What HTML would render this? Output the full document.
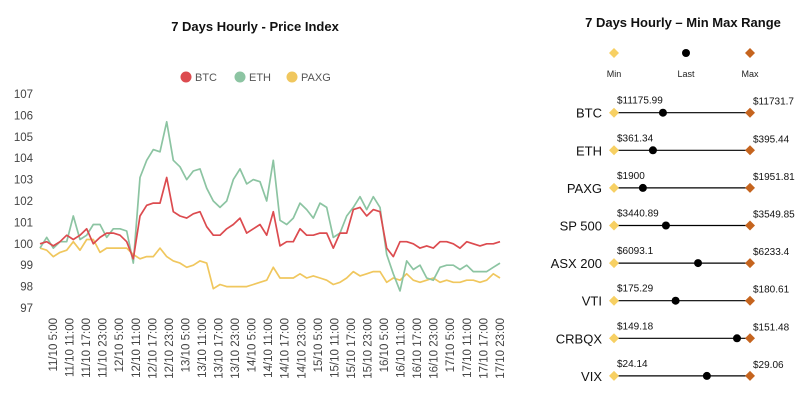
<!DOCTYPE html>
<html><head><meta charset="utf-8"><style>
body{margin:0;background:#fff;width:806px;height:405px;overflow:hidden;font-family:"Liberation Sans",sans-serif}
svg{position:absolute;left:0;top:0}
</style></head><body>
<svg id="c" width="806" height="405">
<text x="255" y="31" text-anchor="middle" font-weight="bold" font-size="13" fill="#111">7 Days Hourly - Price Index</text>
<text x="683" y="27" text-anchor="middle" font-weight="bold" font-size="13" fill="#111">7 Days Hourly – Min Max Range</text>
<g id="legend"></g>
<g id="yaxis"></g>
<g id="xaxis"></g>
<g id="lines"></g>
<g id="range"></g>
</svg>
<script>
const seriesNames=["BTC","ETH","PAXG"];
const seriesColors=["#dc4b4f","#8cc4a2","#f0c75e"];
const btc=[100.0,100.1,99.9,100.1,100.4,100.2,100.4,100.7,100.0,100.3,100.5,100.5,100.4,100.1,99.3,101.3,101.8,101.9,101.9,103.1,101.5,101.3,101.2,101.4,101.5,100.8,100.4,100.4,100.7,100.9,101.2,100.5,100.7,100.9,100.4,101.5,99.9,100.1,100.1,100.7,100.4,100.4,100.5,100.5,99.8,100.5,100.5,101.6,101.7,101.3,101.6,101.5,99.8,99.4,100.1,100.1,100.0,99.8,99.9,99.8,100.1,100.1,100.0,99.8,100.1,100.0,99.9,100.0,100.0,100.1];
const eth=[99.8,100.3,99.8,100.1,100.1,101.3,100.2,100.4,100.9,100.9,100.3,100.7,100.7,100.6,99.1,103.1,103.9,104.4,104.3,105.7,103.9,103.6,103.0,103.4,103.5,102.6,102.0,101.7,102.0,103.0,103.5,102.8,103.0,102.9,102.0,103.9,101.1,100.9,101.2,101.9,101.6,101.2,101.9,101.7,100.3,100.5,101.3,101.7,102.2,101.6,102.2,101.7,99.5,98.6,97.8,99.2,98.8,99.0,98.4,98.3,98.9,99.0,99.0,98.8,99.0,98.7,98.7,98.7,98.9,99.1];
const paxg=[99.8,99.7,99.4,99.6,99.7,100.1,99.7,100.2,100.2,99.6,99.8,99.8,99.8,99.8,99.5,99.3,99.4,99.4,99.8,99.4,99.2,99.1,98.9,99.0,99.2,99.1,97.9,98.1,98.0,98.0,98.0,98.0,98.1,98.2,98.3,98.9,98.4,98.4,98.4,98.6,98.4,98.5,98.4,98.3,98.1,98.2,98.4,98.7,98.5,98.6,98.7,98.7,98.2,98.4,98.3,98.6,98.3,98.2,98.3,98.4,98.2,98.3,98.2,98.2,98.3,98.3,98.2,98.3,98.6,98.4];
const yTicks=[97,98,99,100,101,102,103,104,105,106,107];
const days=["11/10","12/10","13/10","14/10","15/10","16/10","17/10"];
const hours=["5:00","11:00","17:00","23:00"];
const rangeNames=["BTC","ETH","PAXG","SP 500","ASX 200","VTI","CRBQX","VIX"];
const rangeMin=[11175.99,361.34,1900,3440.89,6093.1,175.29,149.18,24.14];
const rangeMax=[11731.7,395.44,1951.81,3549.85,6233.4,180.61,151.48,29.06];
const rangeLast=[11376,371.1,1911,3482.5,6179.8,177.7,151.26,27.5];
const minLabels=["$11175.99","$361.34","$1900","$3440.89","$6093.1","$175.29","$149.18","$24.14"];
const maxLabels=["$11731.7","$395.44","$1951.81","$3549.85","$6233.4","$180.61","$151.48","$29.06"];

const NS="http://www.w3.org/2000/svg";
function mk(p,t,a){const e=document.createElementNS(NS,t);for(const k in a)e.setAttribute(k,a[k]);p.appendChild(e);return e;}
const y=v=>308-(v-97)*21.4;
const xd=(i,n)=>40+i*(460/(n-1));

const yg=document.getElementById('yaxis');
yTicks.forEach(t=>{const e=mk(yg,'text',{x:33,y:y(t)+4,'text-anchor':'end','font-size':11.5,fill:'#444'});e.textContent=t;

});

const xg=document.getElementById('xaxis');
const xl=[];days.forEach(d=>hours.forEach(h=>xl.push(d+" "+h)));
xl.forEach((l,i)=>{const xx=53+i*16.55;const e=mk(xg,'text',{x:0,y:0,transform:`translate(${xx+4},318) rotate(-90)`,'text-anchor':'end','font-size':11.5,fill:'#444'});e.textContent=l;

});

const lg=document.getElementById('legend');
[[186,201],[240,256],[292,308]].forEach((p,i)=>{
const c=mk(lg,'circle',{cx:p[0],cy:77,r:5.5,fill:seriesColors[i]});


const t=mk(lg,'text',{x:p[0]+9,y:81,'font-size':11,fill:'#555'});t.textContent=seriesNames[i];

});

const lgp=document.getElementById('lines');
[paxg,eth,btc].forEach((s,k)=>{const idx=2-k;
const d=s.map((v,i)=>(i?'L':'M')+xd(i,s.length).toFixed(1)+','+y(v).toFixed(1)).join('');
const p=mk(lgp,'path',{d:d,fill:'none',stroke:seriesColors[idx],'stroke-width':1.7,'stroke-linejoin':'round'});

});

const rg=document.getElementById('range');
function diamond(g,cx,cy,col){return mk(g,'path',{d:`M${cx-5},${cy}L${cx},${cy-5}L${cx+5},${cy}L${cx},${cy+5}Z`,fill:col});}
const lm=diamond(rg,614,53,'#f7d063');


const ll=mk(rg,'circle',{cx:686,cy:53,r:4,fill:'#000'});


const lx=diamond(rg,750,53,'#c5641e');


[["Min",614],["Last",686],["Max",750]].forEach(a=>{const t=mk(rg,'text',{x:a[1],y:77,'text-anchor':'middle','font-size':9,fill:'#222'});t.textContent=a[0];

});
const x0=614,x1=750;
rangeNames.forEach((n,i)=>{const cy=112.7+i*37.6;
const t=mk(rg,'text',{x:602,y:cy+5,'text-anchor':'end','font-size':13,fill:'#111'});t.textContent=n;


const ln=mk(rg,'line',{x1:x0,y1:cy,x2:x1,y2:cy,stroke:'#000','stroke-width':1.2});


const a=diamond(rg,x0,cy,'#f7d063');


const b=diamond(rg,x1,cy,'#c5641e');


const lx2=x0+(rangeLast[i]-rangeMin[i])/(rangeMax[i]-rangeMin[i])*(x1-x0);
const c=mk(rg,'circle',{cx:lx2,cy:cy,r:4,fill:'#000'});


const m1=mk(rg,'text',{x:617,y:cy-9,'font-size':10,fill:'#111'});m1.textContent=minLabels[i];


const m2=mk(rg,'text',{x:753,y:cy-8,'font-size':10,fill:'#111'});m2.textContent=maxLabels[i];

});
</script>
</body></html>
